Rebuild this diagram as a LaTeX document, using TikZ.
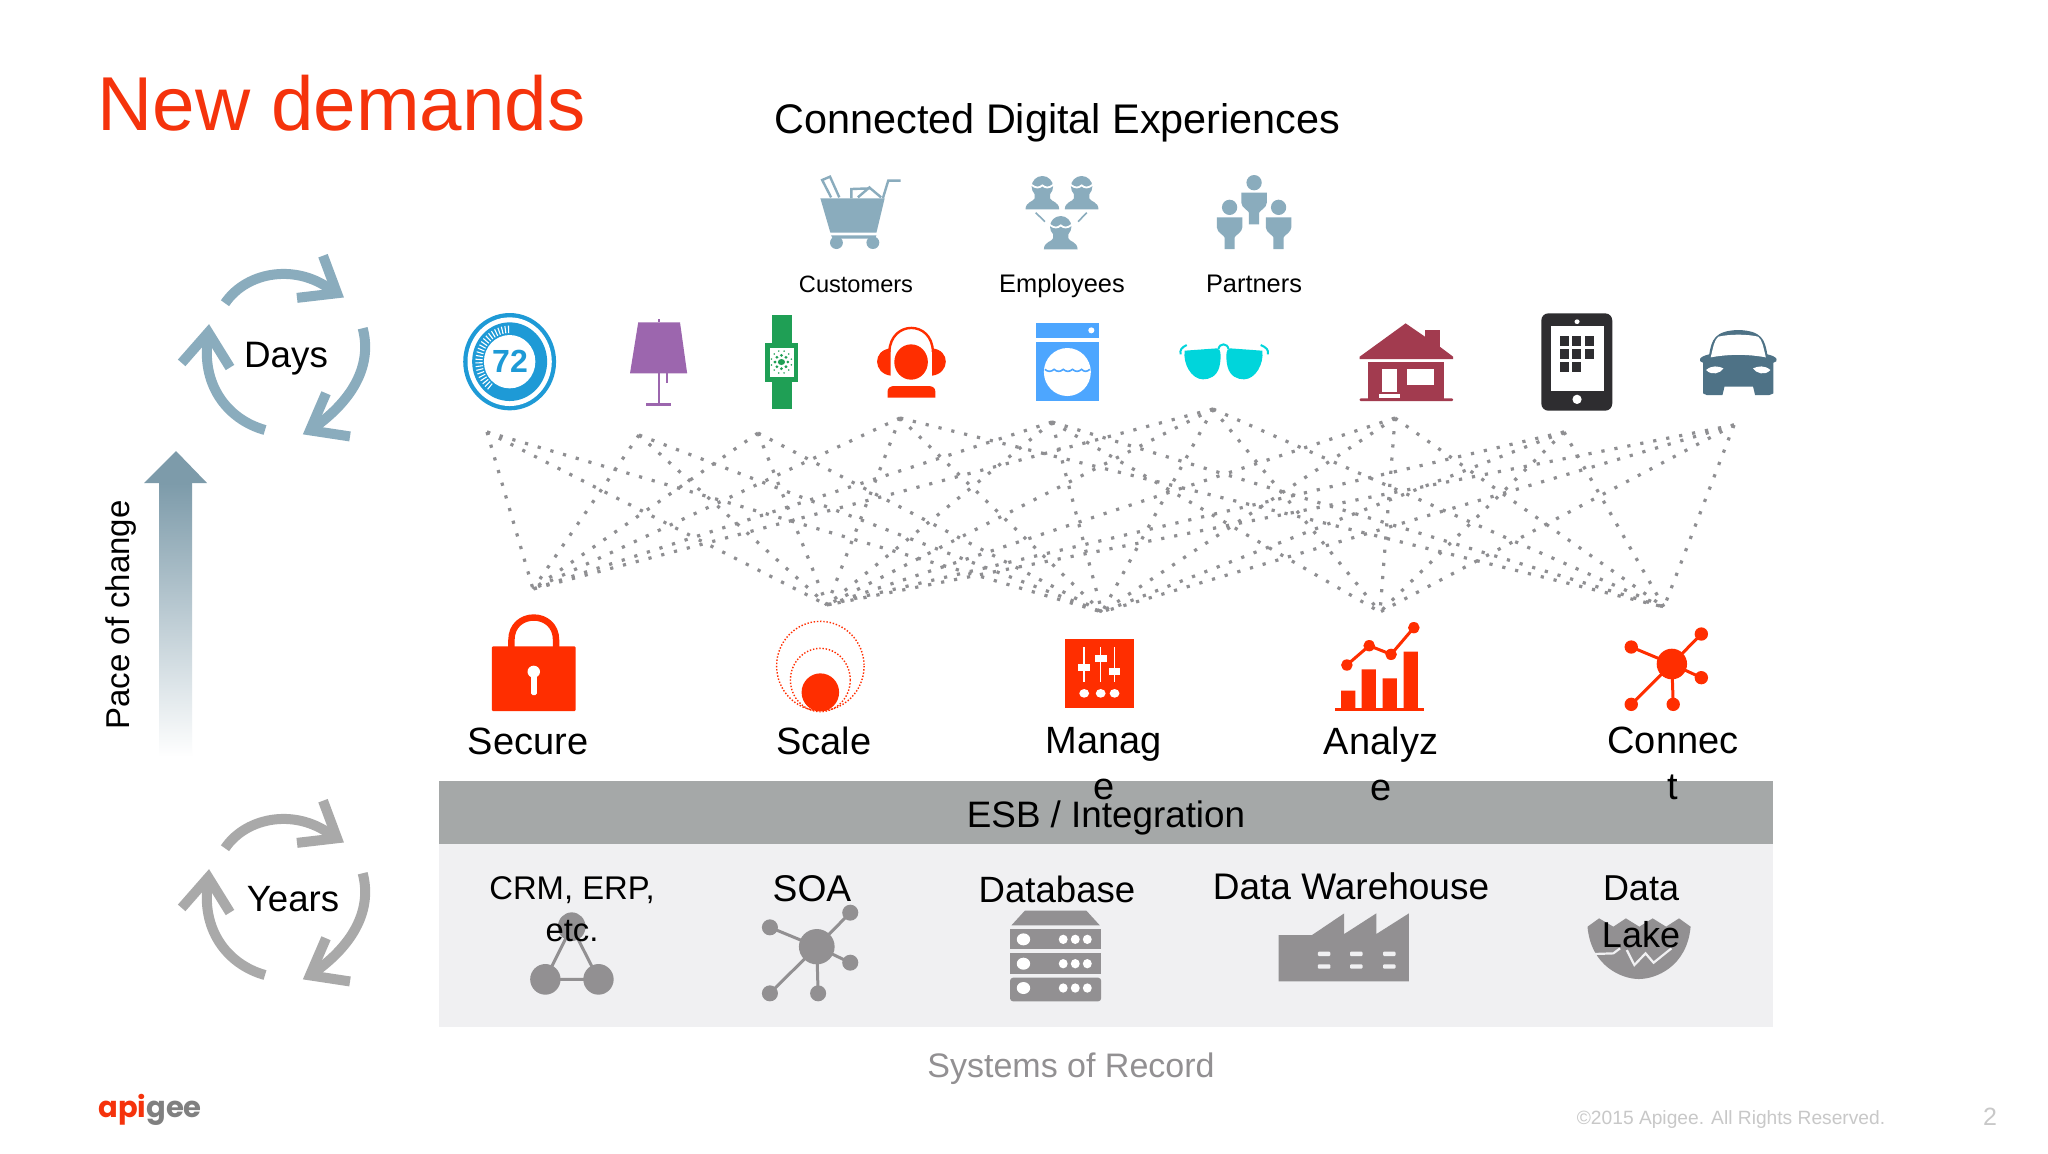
\documentclass[tikz,border=0pt]{standalone}
\usepackage{fontspec}
\setmainfont{Liberation Sans}
\newfontfamily\logofont{Poppins}
\definecolor{redo}{HTML}{FF2E00}
\definecolor{titlered}{HTML}{F5330C}
\definecolor{steel}{HTML}{8AACBD}
\definecolor{steeldark}{HTML}{7D9BAA}
\definecolor{lampc}{HTML}{9C66AE}
\definecolor{watchc}{HTML}{1F9F55}
\definecolor{thermo}{HTML}{1E9AD6}
\definecolor{washc}{HTML}{4DA6FF}
\definecolor{glassc}{HTML}{00D5DB}
\definecolor{housec}{HTML}{A23B4F}
\definecolor{tabc}{HTML}{2E2D30}
\definecolor{carc}{HTML}{4E7286}
\definecolor{iconbase}{HTML}{929092}
\definecolor{barc}{HTML}{A5A8A8}
\definecolor{panelc}{HTML}{F0F0F2}
\definecolor{dotc}{HTML}{8F8F92}
\definecolor{cyc}{HTML}{A9A9A9}
\definecolor{pale}{HTML}{C8C8C8}
\newcommand\emperson[2]{%
  \begin{scope}[shift={(#1,#2)}]
    \fill[steel] (0,0) ellipse (21 and 32);
    \draw[white,line width=.9pt] (-22,-6) .. controls (-12,6) and (-6,4) .. (0,-4) .. controls (6,4) and (12,6) .. (22,-6);
    \fill[steel] (-33,68) .. controls (-33,45) and (-17,45) .. (-15,35) -- (-15,10) -- (15,10) -- (15,35) .. controls (17,45) and (33,45) .. (33,68) -- cycle;
  \end{scope}}
\newcommand\partnerfig[2]{%
  \begin{scope}[shift={(#1,#2)}]
    \fill[steel] (0,0) ellipse (15 and 23);
    \fill[steel] (-25,30) -- (25,30) -- (25,60) .. controls (25,75) and (10,85) .. (10,90) -- (10,125) -- (-10,125) -- (-10,90) .. controls (-10,85) and (-25,75) .. (-25,60) -- cycle;
  \end{scope}}
\newcommand\cycarrows[1]{%
  \draw[#1,line width=5pt] (435,205) .. controls (500,115) and (655,90) .. (765,176);
  \draw[#1,line width=5pt,miter limit=10] (729,72) -- (771,177) -- (651,190);
  \draw[#1,line width=5pt] (848,275) .. controls (875,370) and (830,470) .. (695,558);
  \draw[#1,line width=5pt,miter limit=10] (738,457) -- (690,561) -- (810,578);
  \draw[#1,line width=5pt] (555,560) .. controls (440,530) and (360,430) .. (385,295);
  \draw[#1,line width=5pt,miter limit=10] (305,372) -- (385,287) -- (450,385);
}
\tikzset{
  x=0.5pt,y=-0.5pt,
  zA/.style={shift={(440,160)},x=0.17857pt,y=-0.16667pt},
  zB/.style={shift={(1000,160)},x=0.2551pt,y=-0.16667pt},
  zC/.style={shift={(440,410)},x=0.22321pt,y=-0.16667pt},
  zD/.style={shift={(1100,410)},x=0.22321pt,y=-0.16667pt},
  zE/.style={shift={(440,780)},x=0.22321pt,y=-0.16667pt},
  zF/.style={shift={(1100,780)},x=0.22321pt,y=-0.16667pt},
  zG/.style={shift={(80,230)},x=0.16667pt,y=-0.17857pt},
  txt/.style={inner sep=0pt,anchor=base,text=black},
  dotline/.style={dotc,line width=1.6pt,dash pattern=on 1.6pt off 5pt},
  scalering/.style={redo,line width=.7pt,dash pattern=on .7pt off .9pt},
  net/.style={line width=1.5pt},
}
\begin{document}
\begin{tikzpicture}
\useasboundingbox (0,0) rectangle (2048,1153);
\fill[white] (0,0) rectangle (2048,1153);

% band and panel
\fill[panelc] (439,844) rectangle (1773,1027);
\fill[barc] (439,781) rectangle (1773,844);

% pace arrow
\shade[top color=steeldark, bottom color=white] (159,483) rectangle (192,757);
\fill[steeldark] (176,451) -- (207,483) -- (144,483) -- cycle;

% cycles
\begin{scope}[zG] \cycarrows{steel} \end{scope}
\begin{scope}[shift={(0,545)}] \begin{scope}[zG] \cycarrows{cyc} \end{scope} \end{scope}

% dotted mesh
\coordinate (t1) at (487,432); \coordinate (t2) at (639,435); \coordinate (t3) at (758,433);
\coordinate (t4) at (900,418); \coordinate (t5) at (1052,422); \coordinate (t6) at (1213,409);
\coordinate (t7) at (1395,418); \coordinate (t8) at (1564,432); \coordinate (t9) at (1734,425);
\coordinate (b1) at (533,589); \coordinate (b2) at (827,605); \coordinate (b3) at (1102,612);
\coordinate (b4) at (1380,612); \coordinate (b5) at (1664,607);
\foreach \a in {1,...,6} \draw[dotline] (t\a) -- (b1);
\foreach \a in {1,...,9} \draw[dotline] (t\a) -- (b2);
\foreach \a in {1,...,9} \draw[dotline] (t\a) -- (b3);
\foreach \a in {5,...,9} \draw[dotline] (t\a) -- (b4);
\foreach \a in {4,...,9} \draw[dotline] (t\a) -- (b5);

% top row A
\begin{scope}[zA]
  % cart
  \fill[steel] (1065,115) -- (1245,115) -- (1222,218) -- (1093,218) -- cycle;
  \fill[steel] (1095,226) -- (1222,226) -- (1218,236) -- (1100,236) -- cycle;
  \fill[steel] (1110,248) ellipse (18 and 19) (1212,248) ellipse (18 and 19);
  \draw[steel,line width=1.2pt] (1240,115) -- (1255,62) -- (1290,62);
  \draw[steel,line width=1.2pt] (1095,112) -- (1070,60) -- (1092,50) -- (1118,112);
  \draw[steel,line width=1.2pt] (1152,115) -- (1152,87) -- (1205,85) -- (1235,112) (1170,112) -- (1205,80);
  % thermostat
  \fill[thermo] (195,605) ellipse (130 and 146);
  \fill[white] (195,605) ellipse (118 and 133);
  \fill[thermo] (195,605) ellipse (105 and 118);
  \fill[white] (195,605) ellipse (72 and 80);
  \foreach \a in {92,98,...,232}
    \draw[white,line width=.55pt] ({195+76*cos(\a)},{605-86*sin(\a)}) -- ({195+96*cos(\a)},{605-108*sin(\a)});
  % lamp
  \fill[lampc] (555,487) -- (672,487) -- (692,640) -- (532,640) -- cycle;
  \draw[lampc,line width=1pt] (612,478) -- (612,487) (612,640) -- (612,735) (635,640) -- (635,670);
  \draw[lampc,line width=1.3pt] (578,733) -- (646,733);
  % watch
  \fill[watchc] (930,466) rectangle (985,747);
  \fill[watchc] (910,549) rectangle (1002,665);
  \fill[white] (923,563) rectangle (990,650);
  \fill[watchc] (956,606) ellipse (10 and 9);
  \foreach \a in {0,45,...,315} \fill[watchc] ({956+18*cos(\a)},{606+20*sin(\a)}) ellipse (4.5 and 4.5);
  \foreach \a in {15,45,...,345} \fill[watchc] ({956+18*1.6*cos(\a)},{606+20*1.7*sin(\a)}) ellipse (2.5 and 2.5);
  % headset
  \fill[redo] (1319,606) ellipse (47 and 53);
  \fill[redo] (1253,713) -- (1253,695) .. controls (1253,683) and (1262,678) .. (1272,678) -- (1368,678) .. controls (1378,678) and (1387,683) .. (1387,695) -- (1387,713) -- cycle;
  \fill[redo] (1262,565) .. controls (1210,570) and (1212,640) .. (1262,647) -- cycle;
  \fill[redo] (1378,565) .. controls (1430,570) and (1428,640) .. (1378,647) -- cycle;
  \draw[redo,line width=1.2pt] (1258,575) .. controls (1262,480) and (1378,480) .. (1380,575);
\end{scope}

% top row B
\begin{scope}[zB]
  \emperson{83}{80} \emperson{160}{80} \emperson{119}{200}
  \draw[steel,line width=.8pt] (70,158) -- (88,185) (170,158) -- (153,185);
  \partnerfig{498}{68} \partnerfig{450}{142} \partnerfig{546}{142}
  % washer
  \fill[washc] (71,490) rectangle (194,533);
  \fill[washc] (71,545) rectangle (194,724);
  \fill[white] (179,511) ellipse (6 and 9);
  \fill[white] (132,636) ellipse (46 and 72);
  \draw[washc,line width=.8pt] (88,628) .. controls (94,636) and (100,636) .. (106,628) .. controls (112,636) and (118,636) .. (124,628) .. controls (130,636) and (136,636) .. (142,628) .. controls (148,636) and (154,636) .. (160,628) .. controls (165,636) and (170,636) .. (176,628);
  % glasses
  \fill[glassc] (362,572) -- (425,565) .. controls (435,565) and (433,600) .. (430,620) .. controls (425,650) and (410,658) .. (398,658) .. controls (375,658) and (358,610) .. cycle;
  \fill[glassc] (514,572) -- (451,565) .. controls (441,565) and (443,600) .. (446,620) .. controls (451,650) and (466,658) .. (478,658) .. controls (501,658) and (518,610) .. cycle;
  \draw[glassc,line width=1pt] (428,568) .. controls (430,548) and (446,548) .. (448,568);
  \draw[glassc,line width=1pt] (354,583) .. controls (352,570) and (356,562) .. (366,555);
  \draw[glassc,line width=1pt] (525,583) .. controls (527,570) and (522,562) .. (511,555);
  % house
  \fill[housec] (705,590) -- (795,490) -- (833,530) -- (833,510) -- (862,510) -- (862,560) -- (888,590) -- (888,597) -- (705,597) -- cycle;
  \fill[housec] (722,607) rectangle (870,716);
  \fill[housec,rounded corners=.5pt] (705,715) rectangle (888,723);
  \fill[white] (748,627) rectangle (778,695);
  \fill[white] (797,627) rectangle (851,675);
  \fill[white] (743,702) rectangle (783,714);
  % tablet
  \fill[tabc,rounded corners=3.5pt] (1061,460) rectangle (1200,752);
  \fill[white] (1079,498) rectangle (1184,694);
  \fill[white] (1131,485) ellipse (5 and 7);
  \fill[white] (1131,718) ellipse (9 and 14);
  \foreach \y in {528,568,607} \foreach \x in {1098,1122} \fill[tabc] (\x,\y) rectangle ++(17,29);
  \foreach \y in {528,568} \fill[tabc] (1147,\y) rectangle ++(17,29);
  % car
  \fill[carc] (1385,705) -- (1378,700) -- (1378,640) -- (1378,608) .. controls (1368,605) and (1368,590) .. (1390,583) .. controls (1395,540) and (1400,512) .. (1447,510) .. controls (1494,512) and (1499,540) .. (1504,583) .. controls (1526,590) and (1526,605) .. (1516,608) -- (1516,700) -- (1508,705) -- (1480,705) -- (1476,680) -- (1420,680) -- (1416,705) -- cycle;
  \fill[white] (1393,592) .. controls (1398,560) and (1400,540) .. (1408,530) .. controls (1430,522) and (1464,522) .. (1486,530) .. controls (1494,540) and (1496,560) .. (1501,592) .. controls (1465,582) and (1429,582) .. cycle;
  \fill[white] (1384,630) .. controls (1395,615) and (1408,618) .. (1418,625) .. controls (1412,640) and (1395,648) .. cycle;
  \fill[white] (1510,630) .. controls (1499,615) and (1486,618) .. (1476,625) .. controls (1482,640) and (1499,648) .. cycle;
\end{scope}

% capability icons
\begin{scope}[zC]
  % lock
  \draw[redo,line width=3.2pt] (160,712) -- (160,690) .. controls (160,600) and (260,600) .. (260,690) -- (260,712);
  \fill[redo,rounded corners=.6pt] (116,709) rectangle (304,903);
  \fill[white] (210,785) ellipse (14 and 18);
  \fill[white,rounded corners=.8pt] (204,785) rectangle (217,855);
  % scale
  \draw[scalering] (852,768) ellipse (98 and 134);
  \draw[scalering] (852,810) ellipse (67 and 95);
  \begin{scope}
    \clip (780,780) rectangle (920,901);
    \fill[redo] (852,847) ellipse (42 and 57);
  \end{scope}
  % mixer
  \fill[redo] (1400,686) rectangle (1555,893);
  \foreach \x in {1443,1480,1511} {
    \draw[white,line width=.7pt] (\x,712) -- (\x,815);
    \fill[white] (\x,850) ellipse (11 and 13);
  }
  \fill[white] (1430,762) rectangle (1457,783);
  \fill[white] (1467,735) rectangle (1493,755);
  \fill[white] (1498,775) rectangle (1524,796);
\end{scope}
\begin{scope}[zD]
  \fill[redo] (540,842) rectangle (572,898) (586,778) rectangle (618,898) (633,805) rectangle (665,898) (680,725) rectangle (712,898);
  \fill[redo] (527,895) rectangle (725,903);
  \draw[redo,line width=1.5pt] (553,765) -- (603,707) -- (652,733) -- (703,653);
  \foreach \p in {(553,765),(603,707),(652,733),(703,653)} \fill[redo] \p ellipse (13 and 17);
  % connect hub
  \foreach \p in {(1190,711),(1347,672),(1347,803),(1190,883),(1284,883)} {
    \draw[redo,net] (1281,762) -- \p;
    \fill[redo] \p ellipse (15 and 20);
  }
  \fill[redo] (1281,762) ellipse (34 and 46);
\end{scope}

% systems of record icons
\begin{scope}[zE]
  \draw[iconbase,net] (295,440) -- (236,598) -- (355,598) -- cycle;
  \fill[iconbase] (295,440) ellipse (31 and 43) (236,598) ellipse (34 and 46) (355,598) ellipse (34 and 46);
  \foreach \p in {(739,442),(919,398),(919,548),(739,640),(847,640)} {
    \draw[iconbase,net] (844,500) -- \p;
    \fill[iconbase] \p ellipse (18 and 24);
  }
  \fill[iconbase] (844,500) ellipse (40 and 53);
  % database
  \fill[iconbase] (1310,392) -- (1448,392) -- (1478,436) -- (1280,436) -- cycle;
  \fill[iconbase] (1277,447) rectangle (1481,508);
  \fill[iconbase] (1277,519) rectangle (1481,582);
  \fill[iconbase,rounded corners=1.5pt] (1277,593) rectangle (1481,664);
  \foreach \y in {478,551,624} {
    \fill[white] (1307,\y) ellipse (15 and 18);
    \foreach \x in {1396,1423,1450} \fill[white] (\x,\y) ellipse (10 and 14);
  }
\end{scope}
\begin{scope}[zF]
  \fill[iconbase] (400,604) -- (400,465) -- (475,465) -- (547,400) -- (547,462) -- (619,400) -- (619,462) -- (692,400) -- (692,604) -- cycle;
  \foreach \x in {488,560,634} \foreach \y in {515,553} \fill[panelc,rounded corners=.5pt] (\x,\y) rectangle ++(28,13);
  \fill[iconbase] (1092,440) -- (1118,415) -- (1150,440) -- (1178,415) -- (1208,440) -- (1238,415) -- (1268,440) -- (1297,415) -- (1323,440) .. controls (1315,560) and (1245,597) .. (1207,597) .. controls (1170,597) and (1100,560) .. cycle;
  \draw[panelc,line width=1.1pt] (1105,522) -- (1150,520) -- (1165,505) (1180,510) -- (1197,555) -- (1222,520) -- (1240,548) -- (1280,505);
\end{scope}

% texts
\node[txt,anchor=base west,text=titlered,font=\fontsize{38.2}{44}\selectfont] (title) at (97,130) {New demands};
\node[txt,anchor=base west,font=\fontsize{20.7}{25}\selectfont] (cde) at (774,133) {Connected Digital Experiences};
\node[txt,font=\fontsize{11.8}{14}\selectfont] (cust) at (856,292) {Customers};
\node[txt,font=\fontsize{12.7}{15}\selectfont] (emp) at (1062,292) {Employees};
\node[txt,font=\fontsize{12.7}{15}\selectfont] (part) at (1254,292) {Partners};
\node[txt,text=thermo,font=\fontsize{16}{18}\selectfont\bfseries] (tmp) at (510,372) {72};
\node[txt,font=\fontsize{18.4}{22}\selectfont] (days) at (286,367) {Days};
\node[txt,font=\fontsize{18.3}{22}\selectfont] (years) at (293,911) {Years};
\node[txt,rotate=90,font=\fontsize{16.5}{20}\selectfont] (pace) at (129,615) {Pace of change};
\node[txt,font=\fontsize{19}{23}\selectfont] (secure) at (528,754) {Secure};
\node[txt,font=\fontsize{19}{23}\selectfont] (scale) at (824,754) {Scale};
\node[inner sep=0pt,anchor=north,align=center,font=\fontsize{19}{23}\selectfont] (manage) at (1104,727) {Manag\\e};
\node[inner sep=0pt,anchor=north,align=center,font=\fontsize{19}{23}\selectfont] (analyze) at (1381,727) {Analyz\\e};
\node[inner sep=0pt,anchor=north,align=center,font=\fontsize{19}{23}\selectfont] (connect) at (1673,727) {Connec\\t};
\node[txt,font=\fontsize{18.4}{22}\selectfont] (esb) at (1106,827) {ESB / Integration};
\node[inner sep=0pt,anchor=north,align=center,font=\fontsize{16.4}{21}\selectfont] (crm) at (572,876) {CRM, ERP,\\etc.};
\node[txt,font=\fontsize{18.6}{22}\selectfont] (soa) at (812,901) {SOA};
\node[txt,font=\fontsize{18.3}{22}\selectfont] (db) at (1057,902) {Database};
\node[txt,font=\fontsize{18.5}{22}\selectfont] (dw) at (1351,899) {Data Warehouse};
\node[inner sep=0pt,anchor=north,align=center,font=\fontsize{18}{23.5}\selectfont] (lake) at (1641,875) {Data\\Lake};
\node[txt,text=iconbase,font=\fontsize{17}{20}\selectfont] (sor) at (1071,1077) {Systems of Record};
\node[txt,anchor=base west,font=\fontsize{14.5}{18}\logofont\bfseries] (logo) at (98,1117) {\textcolor{titlered}{api}\textcolor{gray}{gee}};
\node[txt,text=pale,font=\fontsize{9.6}{12}\selectfont] (copy) at (1731,1124) {©2015 Apigee. All Rights Reserved.};
\node[txt,text=pale,font=\fontsize{12.5}{15}\selectfont] (pg) at (1990,1125) {2};
\end{tikzpicture}
\end{document}
